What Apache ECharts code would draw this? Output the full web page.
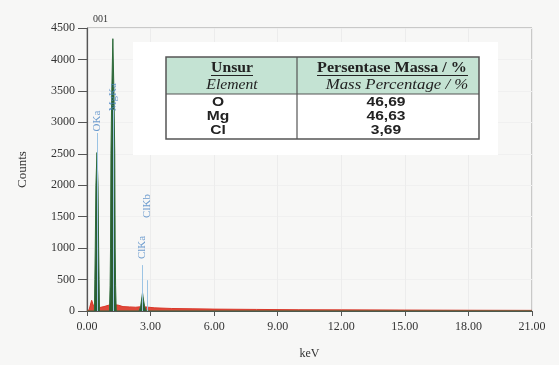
<!DOCTYPE html>
<html><head><meta charset="utf-8">
<script src="https://cdn.jsdelivr.net/npm/echarts@6/dist/echarts.min.js"></script>
<style>html,body{margin:0;padding:0;background:#f7f7f6;}#c{width:559px;height:365px;}</style>
</head><body><div id="c"></div>
<script>
// Spectrum (green, element peaks)
var peakKeV    = [0.00,0.35,0.37,0.39,0.42,0.47,0.52,0.55,0.57,0.59,0.62,1.06,1.09,1.11,1.13,1.17,1.22,1.27,1.31,1.33,1.35,1.38,2.46,2.53,2.58,2.62,2.66,2.72,2.80,21.0];
var peakCounts = [0,   0,   500, 1000,2000,2520,2000,1000,500, 0,   0,   0,   400, 1000,2500,3500,4330,3500,2500,1000,400, 0,   0,   70,  190, 290, 190, 70,  0,   0];
// Background (red)
var bgKeV    = [0.00,0.10,0.17,0.22,0.26,0.32,0.40,0.60,0.80,1.00,1.10,1.45,1.70,2.00,2.30,2.60,2.90,3.20,4.00,5.00,6.00,8.00,10.0,12.0,15.0,18.0,21.0];
var bgCounts = [0,   20,  110, 170, 150, 70,  55,  55,  70,  90,  100, 95,  70,  65,  60,  70,  60,  50,  40,  35,  30,  25,  20,  18,  15,  12,  10];
// Peak labels
var lineNames  = ['OKa','MgKa','ClKa','ClKb'];
var lineKeV    = [0.49, 1.23, 2.62, 2.82];
var labelCounts= [3020, 3400, 1010, 1670];
var lineTop    = [2830, 3200, 730, 490];
// Table
var tableElements = ['O','Mg','Cl'];
var tableMass     = ['46,69','46,63','3,69'];

var chart = echarts.init(document.getElementById('c'));
var serif = 'Liberation Serif';
var blue = '#4a84c4';

function txt(x, y, s, font, sx){
  return {type:'text', x:x, y:y, scaleX:sx||1, style:{text:s, font:font, fill:'#222', align:'center', verticalAlign:'middle'}, z:13};
}
var gfx = [
  {type:'rect', shape:{x:133,y:42,width:365,height:113}, style:{fill:'#ffffff'}, z:10},
  {type:'rect', shape:{x:166,y:57,width:313,height:37}, style:{fill:'#c4e3d3'}, z:11},
  {type:'rect', shape:{x:166,y:57,width:313,height:82}, style:{fill:'none',stroke:'#555',lineWidth:1.5}, z:12},
  {type:'line', shape:{x1:166,y1:94,x2:479,y2:94}, style:{stroke:'#555',lineWidth:1.2}, z:12},
  {type:'line', shape:{x1:297,y1:57,x2:297,y2:139}, style:{stroke:'#555',lineWidth:1.2}, z:12},
  txt(232, 68, 'Unsur', 'bold 14px '+serif, 1.12),
  {type:'line', shape:{x1:211,y1:75.5,x2:253,y2:75.5}, style:{stroke:'#222',lineWidth:1}, z:13},
  txt(232, 85, 'Element', 'italic 14px '+serif, 1.12),
  txt(392, 68, 'Persentase Massa / %', 'bold 14px '+serif, 1.15),
  {type:'line', shape:{x1:317,y1:75.5,x2:468,y2:75.5}, style:{stroke:'#222',lineWidth:1}, z:13},
  txt(397, 85, 'Mass Percentage / %', 'italic 14px '+serif, 1.2),
  {type:'text', x:93, y:19, style:{text:'001', font:'10px '+serif, fill:'#333', align:'left', verticalAlign:'middle'}, z:13}
];
tableElements.forEach(function(e,i){
  gfx.push(txt(218, 103+i*14, e, 'bold 12px Liberation Sans', 1.3));
  gfx.push(txt(386, 103+i*14, tableMass[i], 'bold 12px Liberation Sans', 1.3));
});

chart.setOption({
  backgroundColor:'#f7f7f6',
  animation:false,
  grid:{left:87, right:27, top:28, bottom:54, show:true, borderColor:'#9a9a9a', borderWidth:1, backgroundColor:'transparent'},
  xAxis:{type:'value', min:0, max:21, interval:3,
    name:'keV', nameLocation:'middle', nameGap:37, nameTextStyle:{fontFamily:serif, fontSize:12, color:'#333'},
    axisLine:{lineStyle:{color:'#555', width:1.2}}, axisTick:{length:5, lineStyle:{color:'#555'}},
    axisLabel:{fontFamily:serif, fontSize:12, color:'#333', margin:10, formatter:function(v){return v.toFixed(2);}},
    splitLine:{show:true, lineStyle:{color:'#ececec'}}},
  yAxis:{type:'value', min:0, max:4500, interval:500,
    name:'Counts', nameLocation:'middle', nameGap:58, nameRotate:90, nameTextStyle:{fontFamily:serif, fontSize:13, color:'#333'},
    axisLine:{show:true, lineStyle:{color:'#555', width:1.2}}, axisTick:{show:true, length:9, lineStyle:{color:'#555'}},
    axisLabel:{fontFamily:serif, fontSize:12, color:'#333', margin:12, formatter:function(v){return String(v);}},
    splitLine:{show:true, lineStyle:{color:'#f0f0f0'}}},
  graphic:gfx,
  series:[
    {type:'line', data:bgKeV.map(function(x,i){return [x,bgCounts[i]];}), symbol:'none',
     lineStyle:{color:'#d9382a', width:1}, areaStyle:{color:'#e0483a', opacity:1}, z:2,
     markLine:{silent:true, symbol:'none', label:{show:false}, lineStyle:{color:'#9cc4e4', width:1, type:'solid'},
       data:lineKeV.map(function(x,i){return [{coord:[x,0]},{coord:[x,lineTop[i]]}];})}},
    {type:'line', data:peakKeV.map(function(x,i){return [x,peakCounts[i]];}), symbol:'none',
     lineStyle:{color:'#2e6b3a', width:1}, areaStyle:{color:'#2a5e33', opacity:1}, z:3},
    {type:'scatter', data:lineKeV.map(function(x,i){return [x,labelCounts[i]];}), symbolSize:0, z:5,
     label:{show:true, position:'inside', rotate:90, fontFamily:serif, fontSize:11, color:blue,
       formatter:function(p){return lineNames[p.dataIndex];}}}
  ]
});
</script></body></html>
